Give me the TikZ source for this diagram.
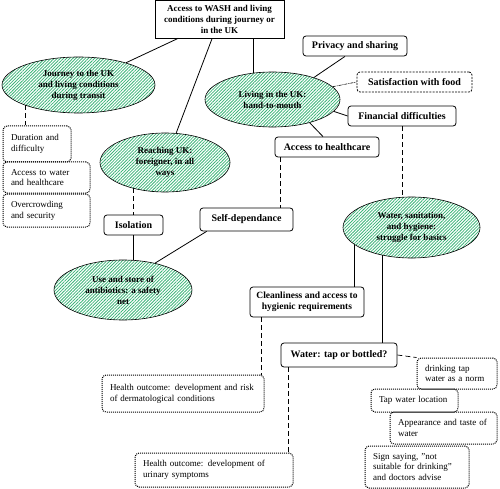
\documentclass[tikz,border=0pt]{standalone}
\usepackage{fontspec}
\setmainfont{Liberation Serif}
\usetikzlibrary{positioning, shapes.geometric, patterns.meta}
\definecolor{hatchgreen}{RGB}{60,180,120}

\begin{document}
\begin{tikzpicture}[on grid, node distance=40pt]
  \tikzstyle{nodeT}=[rectangle,draw,line width=0.6pt,align=center,inner sep=2pt,font=\fontsize{9}{11}\selectfont\bfseries]
  \tikzstyle{nodeE}=[ellipse,draw,line width=0.6pt,inner sep=0pt,align=center,font=\fontsize{9}{11}\selectfont\bfseries,
    pattern={Lines[angle=45,distance=2.2pt,line width=0.8pt]},pattern color=hatchgreen]
  \tikzstyle{nodeS}=[rectangle,rounded corners=3pt,draw,line width=0.8pt,align=center,inner sep=2pt,font=\fontsize{10}{11}\selectfont\bfseries]
  \tikzstyle{nodeD}=[rectangle,rounded corners=4pt,draw,dash pattern=on 1pt off 1pt,line width=1pt,align=left,inner xsep=8pt,inner ysep=2pt,font=\fontsize{9}{10.8}\selectfont]
  \tikzstyle{link}=[draw,line width=0.8pt]
  \tikzstyle{dlink}=[draw,line width=0.7pt,dash pattern=on 5pt off 3pt]

  \useasboundingbox (0,0) rectangle (500pt,-489pt);

  % Main topic and themes
  \node[nodeT, minimum width=129pt, minimum height=38pt] (root) at (219.5pt,-19pt)
    {Access to WASH and living\\conditions during journey or\\in the UK};
  \node[nodeE, minimum width=153pt, minimum height=56pt] (journey) [below left=66pt and 141pt of root]
    {Journey to the UK\\and living conditions\\during transit};
  \node[nodeE, minimum width=130pt, minimum height=59pt] (reach) [below left=143.5pt and 54.5pt of root]
    {Reaching UK:\\foreigner, in all\\ways};
  \node[nodeE, minimum width=135pt, minimum height=55pt] (living) [below right=80.5pt and 53pt of root]
    {Living in the UK:\\hand-to-mouth};

  % Living in the UK
  \node[nodeS, minimum width=104pt, minimum height=20pt] (privacy) [above right=53.5pt and 82.5pt of living] {Privacy and sharing};
  \node[nodeS, minimum width=115pt, minimum height=20pt, dash pattern=on 2pt off 1.2pt] (satisf) [above right=17.5pt and 142pt of living] {Satisfaction with food};
  \node[nodeS, minimum width=108pt, minimum height=20pt] (financial) [below right=16.5pt and 129.5pt of living] {Financial difficulties};
  \node[nodeS, minimum width=104pt, minimum height=20pt] (healthcare) [below right=47.5pt and 54.5pt of living] {Access to healthcare};
  \node[nodeS, minimum width=93pt, minimum height=23pt] (selfdep) [below left=72.5pt and 80.5pt of healthcare] {Self-dependance};

  % Reaching UK
  \node[nodeS, minimum width=59pt, minimum height=20pt] (isolation) [below left=62.5pt and 31.5pt of reach] {Isolation};
  \node[nodeE, minimum width=138pt, minimum height=60pt] (antibio) [below left=65pt and 10.5pt of isolation]
    {Use and store of\\antibiotics: a safety\\net};

  % WASH
  \node[nodeE, minimum width=137pt, minimum height=61pt] (wash) [below right=111.5pt and 9.5pt of financial]
    {Water, sanitation,\\and hygiene:\\struggle for basics};
  \node[nodeS, minimum width=114pt, minimum height=30pt, font=\fontsize{9.5}{11}\selectfont\bfseries] (clean) [below left=74.5pt and 104.5pt of wash]
    {Cleanliness and access to\\hygienic requirements};
  \node[nodeS, minimum width=116pt, minimum height=24pt] (water) [below left=127.5pt and 72.5pt of wash] {Water: tap or bottled?};
  \node[nodeD, text width=146pt, minimum height=37pt] (derm) [below left=91.5pt and 124pt of clean]
    {Health outcome: development and risk\\of dermatological conditions};
  \node[nodeD, text width=142pt, minimum height=34pt] (urinary) [below left=115pt and 125pt of water]
    {Health outcome: development of\\urinary symptoms};
  \node[nodeD, text width=64pt, minimum height=31pt] (drinking) [below right=18.5pt and 118pt of water]
    {drinking tap\\water as a norm};
  \node[nodeD, text width=71pt, minimum height=23pt] (tapwater) [below left=27pt and 42.5pt of drinking] {Tap water location};
  \node[nodeD, text width=91pt, minimum height=32pt] (appear) [below right=27.5pt and 29pt of tapwater]
    {Appearance and taste of\\water};
  \node[nodeD, text width=88pt, minimum height=42pt] (sign) [below left=39pt and 26.5pt of appear]
    {Sign saying, "not\\suitable for drinking"\\and doctors advise};

  % Journey
  \node[nodeD, text width=52pt, minimum height=36pt] (duration) [below left=59pt and 41.5pt of journey]
    {Duration and\\difficulty};
  \node[nodeD, text width=71pt, minimum height=31pt] (accwater) [below right=33.5pt and 9.5pt of duration]
    {Access to water\\and healthcare};
  \node[nodeD, text width=71pt, minimum height=33pt] (overcrowd) [below=33pt of accwater]
    {Overcrowding\\and security};

  % Connectors
  \path[link] (root) -- (journey);
  \path[link] (root) -- (reach);
  \path[link] (living.125) -- (living.125 |- root.south);
  \path[link] (living.28) -- ([xshift=-10pt]privacy.south);
  \path[draw, line width=0.6pt, dash pattern=on 3pt off 1pt on 1pt off 1pt] (living.12) -- (satisf.west);
  \path[link] (living.-11) -- (financial.west);
  \path[link] (living.-32) -- ([xshift=-4pt]healthcare.north);
  \path[dlink] ([xshift=-47pt]healthcare.south) -- ([xshift=-47pt]healthcare.south |- selfdep.north);
  \path[dlink] (financial.south) -- (financial.south |- wash.north);
  \path[dlink] (journey.-159) -- (journey.-159 |- duration.north);
  \path[dlink] (reach.-141) -- (reach.-141 |- isolation.north);
  \path[link] (isolation.south) -- (isolation.south |- antibio.north);
  \path[link] ([xshift=7pt]selfdep.south west) -- (antibio.40);
  \path[link] (wash.-163) -- (wash.-163 |- clean.north);
  \path[link] (wash.-136) -- (wash.-136 |- water.north);
  \path[dlink] ([xshift=12pt]clean.south west) -- ([xshift=12pt]clean.south west |- derm.north);
  \path[dlink] ([xshift=8pt]water.south west) -- ([xshift=8pt]water.south west |- urinary.north);
  \path[dlink] (water.east) -- (drinking.north west);
\end{tikzpicture}
\end{document}
